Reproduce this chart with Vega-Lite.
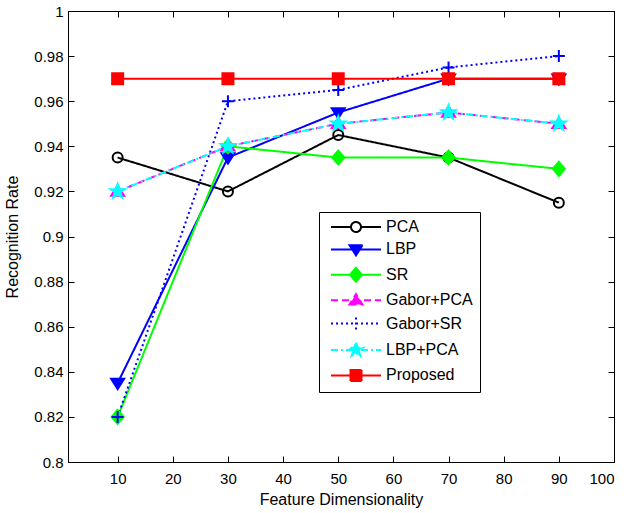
{
  "$schema": "https://vega.github.io/schema/vega-lite/v6.json",
  "width": 546,
  "height": 451,
  "autosize": {"type": "none"},
  "padding": {"left": 68, "top": 11, "right": 16, "bottom": 51},
  "background": "white",
  "config": {
    "view": {"stroke": "black", "strokeWidth": 1},
    "font": "Liberation Sans",
    "axis": {
      "grid": false,
      "domainColor": "black",
      "tickColor": "black",
      "labelColor": "black",
      "titleColor": "black",
      "labelFont": "Liberation Sans",
      "titleFont": "Liberation Sans",
      "labelFontSize": 15,
      "titleFontSize": 16,
      "titleFontWeight": "normal",
      "tickSize": -6
    }
  },
  "data": {
    "values": [
      {"series": "PCA", "dim": 10, "rate": 0.935},
      {"series": "PCA", "dim": 30, "rate": 0.92},
      {"series": "PCA", "dim": 50, "rate": 0.945},
      {"series": "PCA", "dim": 70, "rate": 0.935},
      {"series": "PCA", "dim": 90, "rate": 0.915},
      {"series": "LBP", "dim": 10, "rate": 0.835},
      {"series": "LBP", "dim": 30, "rate": 0.935},
      {"series": "LBP", "dim": 50, "rate": 0.955},
      {"series": "LBP", "dim": 70, "rate": 0.97},
      {"series": "LBP", "dim": 90, "rate": 0.97},
      {"series": "SR", "dim": 10, "rate": 0.82},
      {"series": "SR", "dim": 30, "rate": 0.94},
      {"series": "SR", "dim": 50, "rate": 0.935},
      {"series": "SR", "dim": 70, "rate": 0.935},
      {"series": "SR", "dim": 90, "rate": 0.93},
      {"series": "Gabor+PCA", "dim": 10, "rate": 0.92},
      {"series": "Gabor+PCA", "dim": 30, "rate": 0.94},
      {"series": "Gabor+PCA", "dim": 50, "rate": 0.95},
      {"series": "Gabor+PCA", "dim": 70, "rate": 0.955},
      {"series": "Gabor+PCA", "dim": 90, "rate": 0.95},
      {"series": "Gabor+SR", "dim": 10, "rate": 0.82},
      {"series": "Gabor+SR", "dim": 30, "rate": 0.96},
      {"series": "Gabor+SR", "dim": 50, "rate": 0.965},
      {"series": "Gabor+SR", "dim": 70, "rate": 0.975},
      {"series": "Gabor+SR", "dim": 90, "rate": 0.98},
      {"series": "LBP+PCA", "dim": 10, "rate": 0.92},
      {"series": "LBP+PCA", "dim": 30, "rate": 0.94},
      {"series": "LBP+PCA", "dim": 50, "rate": 0.95},
      {"series": "LBP+PCA", "dim": 70, "rate": 0.955},
      {"series": "LBP+PCA", "dim": 90, "rate": 0.95},
      {"series": "Proposed", "dim": 10, "rate": 0.97},
      {"series": "Proposed", "dim": 30, "rate": 0.97},
      {"series": "Proposed", "dim": 50, "rate": 0.97},
      {"series": "Proposed", "dim": 70, "rate": 0.97},
      {"series": "Proposed", "dim": 90, "rate": 0.97}
    ]
  },
  "resolve": {
    "scale": {"color": "independent", "stroke": "independent", "fill": "independent", "shape": "independent", "strokeDash": "independent"},
    "axis": {"x": "independent", "y": "independent"}
  },
  "layer": [
    {
      "mark": {"type": "line", "strokeWidth": 2},
      "encoding": {
        "x": {"field": "dim", "type": "quantitative", "scale": {"domain": [1, 100], "nice": false, "zero": false},
              "axis": {"values": [10, 20, 30, 40, 50, 60, 70, 80, 90, 100], "title": "Feature Dimensionality", "labelPadding": 15, "titlePadding": 5}},
        "y": {"field": "rate", "type": "quantitative", "scale": {"domain": [0.8, 1], "nice": false, "zero": false},
              "axis": {"values": [0.8, 0.82, 0.84, 0.86, 0.88, 0.9, 0.92, 0.94, 0.96, 0.98, 1], "format": ".2~f", "title": "Recognition Rate", "labelPadding": 11, "titlePadding": 13}},
        "color": {"field": "series", "type": "nominal", "legend": null,
                  "scale": {"domain": ["PCA", "LBP", "SR", "Gabor+PCA", "Gabor+SR", "LBP+PCA", "Proposed"],
                            "range": ["#000000", "#0000ff", "#00ff00", "#ff00ff", "#0000ff", "#00ffff", "#ff0000"]}},
        "strokeDash": {"field": "series", "type": "nominal", "legend": null,
                       "scale": {"domain": ["PCA", "LBP", "SR", "Gabor+PCA", "Gabor+SR", "LBP+PCA", "Proposed"],
                                 "range": [[1, 0], [1, 0], [1, 0], [7, 4], [2, 3], [7, 3, 2, 3], [1, 0]]}}
      }
    },
    {
      "mark": {"type": "point", "size": 100, "strokeWidth": 2, "opacity": 1},
      "encoding": {
        "x": {"field": "dim", "type": "quantitative", "axis": {"orient": "top", "values": [10, 20, 30, 40, 50, 60, 70, 80, 90, 100], "labels": false, "title": null}},
        "y": {"field": "rate", "type": "quantitative", "axis": {"orient": "right", "values": [0.8, 0.82, 0.84, 0.86, 0.88, 0.9, 0.92, 0.94, 0.96, 0.98, 1], "labels": false, "title": null}},
        "shape": {"field": "series", "type": "nominal", "legend": null,
                  "scale": {"domain": ["PCA", "LBP", "SR", "Gabor+PCA", "Gabor+SR", "LBP+PCA", "Proposed"],
                            "range": [
                              "M-1,0A1,1,0,1,1,1,0A1,1,0,1,1,-1,0Z",
                              "M-1.3,-0.85L1.3,-0.85L0,1.2Z",
                              "M0,-1.4L1.2,0L0,1.4L-1.2,0Z",
                              "M-1.3,0.85L1.3,0.85L0,-1.2Z",
                              "M-1.2,0H1.2M0,-1.2V1.2",
                              "M0,-1.5L0.353,-0.485L1.427,-0.464L0.571,0.185L0.882,1.214L0,0.6L-0.882,1.214L-0.571,0.185L-1.427,-0.464L-0.353,-0.485Z",
                              "M-1.1,-1.1H1.1V1.1H-1.1Z"
                            ]}},
        "stroke": {"field": "series", "type": "nominal", "legend": null,
                   "scale": {"domain": ["PCA", "LBP", "SR", "Gabor+PCA", "Gabor+SR", "LBP+PCA", "Proposed"],
                             "range": ["#000000", "#0000ff", "#00ff00", "#ff00ff", "#0000ff", "#00ffff", "#ff0000"]}},
        "fill": {"field": "series", "type": "nominal", "legend": null,
                 "scale": {"domain": ["PCA", "LBP", "SR", "Gabor+PCA", "Gabor+SR", "LBP+PCA", "Proposed"],
                           "range": ["transparent", "#0000ff", "#00ff00", "#ff00ff", "transparent", "#00ffff", "#ff0000"]}}
      }
    },
    {
      "transform": [{"filter": "false"}],
      "mark": {"type": "point", "size": 100, "strokeWidth": 2, "opacity": 1},
      "encoding": {
        "shape": {"field": "series", "type": "nominal",
                  "scale": {"domain": ["PCA", "LBP", "SR", "Gabor+PCA", "Gabor+SR", "LBP+PCA", "Proposed"],
                            "range": [
                              "M-5,0H-1M1,0H5M-1,0A1,1,0,1,1,1,0A1,1,0,1,1,-1,0Z",
                              "M-5,0H5M-1.3,-0.85L1.3,-0.85L0,1.2Z",
                              "M-5,0H5M0,-1.4L1.2,0L0,1.4L-1.2,0Z",
                              "M-5,0H5M-1.3,0.85L1.3,0.85L0,-1.2Z",
                              "M-5,0H5M0,-1.2V1.2",
                              "M-5,0H5M0,-1.5L0.353,-0.485L1.427,-0.464L0.571,0.185L0.882,1.214L0,0.6L-0.882,1.214L-0.571,0.185L-1.427,-0.464L-0.353,-0.485Z",
                              "M-5,0H5M-1.1,-1.1H1.1V1.1H-1.1Z"
                            ]},
                  "legend": {"title": null, "orient": "none", "legendX": 251, "legendY": 201, "padding": 7,
                             "strokeColor": "black", "fillColor": "white", "symbolSize": 100, "symbolStrokeWidth": 2,
                             "symbolOffset": 22, "labelOffset": 22, "rowPadding": 4.4, "labelFontSize": 16,
                             "labelFont": "Liberation Sans", "labelColor": "black", "symbolOpacity": 1}},
        "stroke": {"field": "series", "type": "nominal",
                   "scale": {"domain": ["PCA", "LBP", "SR", "Gabor+PCA", "Gabor+SR", "LBP+PCA", "Proposed"],
                             "range": ["#000000", "#0000ff", "#00ff00", "#ff00ff", "#0000ff", "#00ffff", "#ff0000"]},
                   "legend": {"title": null, "orient": "none", "legendX": 251, "legendY": 201, "padding": 7,
                             "strokeColor": "black", "fillColor": "white", "symbolSize": 100, "symbolStrokeWidth": 2,
                             "symbolOffset": 22, "labelOffset": 22, "rowPadding": 4.4, "labelFontSize": 16,
                             "labelFont": "Liberation Sans", "labelColor": "black", "symbolOpacity": 1}},
        "fill": {"field": "series", "type": "nominal",
                 "scale": {"domain": ["PCA", "LBP", "SR", "Gabor+PCA", "Gabor+SR", "LBP+PCA", "Proposed"],
                           "range": ["#ffffff", "#0000ff", "#00ff00", "#ff00ff", "transparent", "#00ffff", "#ff0000"]},
                 "legend": {"title": null, "orient": "none", "legendX": 251, "legendY": 201, "padding": 7,
                             "strokeColor": "black", "fillColor": "white", "symbolSize": 100, "symbolStrokeWidth": 2,
                             "symbolOffset": 22, "labelOffset": 22, "rowPadding": 4.4, "labelFontSize": 16,
                             "labelFont": "Liberation Sans", "labelColor": "black", "symbolOpacity": 1}},
        "strokeDash": {"field": "series", "type": "nominal",
                       "scale": {"domain": ["PCA", "LBP", "SR", "Gabor+PCA", "Gabor+SR", "LBP+PCA", "Proposed"],
                                 "range": [[1, 0], [1, 0], [1, 0], [7, 4], [2, 3], [7, 3, 2, 3], [1, 0]]},
                       "legend": {"title": null, "orient": "none", "legendX": 251, "legendY": 201, "padding": 7,
                             "strokeColor": "black", "fillColor": "white", "symbolSize": 100, "symbolStrokeWidth": 2,
                             "symbolOffset": 22, "labelOffset": 22, "rowPadding": 4.4, "labelFontSize": 16,
                             "labelFont": "Liberation Sans", "labelColor": "black", "symbolOpacity": 1}}
      }
    }
  ]
}
